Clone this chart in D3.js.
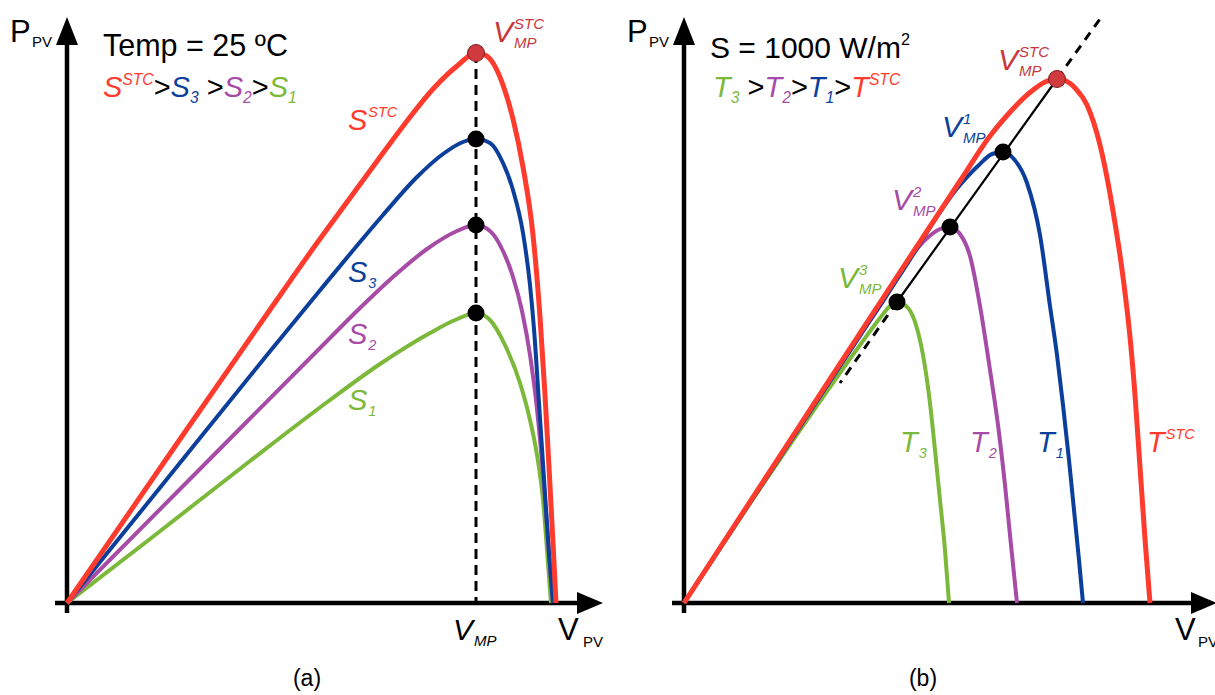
<!DOCTYPE html>
<html>
<head>
<meta charset="utf-8">
<script src="https://cdn.jsdelivr.net/npm/d3@7"></script>
<style>
  body { margin: 0; background: #fff; }
  svg { display: block; font-family: "Liberation Sans", Arial, sans-serif; }
</style>
</head>
<body>
<div id="chart"></div>
<script>
'use strict';

// panel (a): P-V curves at 25 C for several irradiances, [V, P]
var sStc = [[0,0],[10,72.5],[20,144.5],[25,180],[28.3,202.5],[31.6,225],[34.0,241],[36.6,257],[39.0,268.5],[40.9,275],
            [41.8,274],[42.6,270],[43.6,259],[44.6,242],[45.6,218],[46.6,184],[47.3,143],[47.8,104],[48.2,68],[48.6,30],[48.9,0]];
var s3 = [[0,0],[10,62],[20,124],[25,154.5],[28.3,174.5],[31.6,194],[35.0,213],[37.6,224.5],[39.6,230.5],[40.9,232],
          [42.3,230],[43.6,220],[44.6,206.5],[45.6,185],[46.3,159],[46.7,137],[47.2,100],[47.7,62],[48.2,25],[48.6,0]];
var s2 = [[0,0],[13.0,65.5],[26.0,131],[29.3,147.5],[32.6,163],[36.0,177],[39.0,186],[40.9,189],
          [42.3,186],[43.6,176],[44.6,163],[45.5,146],[46.3,124],[47.0,97],[47.8,52],[48.3,18],[48.6,0]];
var s1 = [[0,0],[8.3,32],[18.3,71],[26.3,101.5],[31.3,119.5],[36.3,135],[38.8,141.5],[40.9,145],
          [42.3,141.5],[43.8,129],[45.3,110],[46.3,91.5],[47.0,74],[47.6,51.5],[48.0,26.5],[48.3,6.5],[48.4,0]];
var vmpA = 40.9;
var peaksA = [275, 232, 189, 145];

// panel (b): P-V curves at 1000 W/m2 for several temperatures
var tStc = [[0,0],[11.6,89],[21.6,165.5],[27.6,211],[30.6,233.5],[31.9,241.5],[34.9,256.5],[36.1,260.5],[37.3,262],
            [38.2,261],[39.2,257],[40.3,249],[41.6,229],[42.9,196],[43.9,163],[44.6,133],[45.1,104],[45.6,68],[46.1,32],[46.6,0]];
var t1 = [[0,0],[21.6,164],[27.6,209],[29.6,219.5],[30.8,224.5],[31.9,225.5],[32.9,222.5],[34.3,210],[35.6,184],
          [36.6,148.5],[37.3,124],[37.9,99],[38.5,71.5],[39.0,46.5],[39.5,21.5],[39.9,0]];
var t2 = [[0,0],[19.6,148.5],[24.1,181.5],[25.6,187],[26.6,188],[27.6,184.5],[28.6,173.5],[29.6,148.5],
          [30.6,116.5],[31.4,89],[32.1,59],[32.7,29],[33.3,0]];
var t3 = [[0,0],[11.6,86.5],[17.6,129],[19.6,142.5],[20.6,148.5],[21.3,150.5],[22.4,147.5],[23.2,139],[23.9,124],
          [24.5,104],[25.1,76.5],[25.6,51.5],[26.1,26.5],[26.5,0]];
var mppB = [[21.3,150.5],[26.6,188],[31.9,225.5],[37.3,262]];
var mppLow = [[21.3,150.5],[15.6,110]];
var mppHigh = [[37.3,262],[41.6,292]];

var RED = '#ff3b2e', BLUE = '#0b3f9b', PURPLE = '#a64ca6', GREEN = '#7cb83a', DARKRED = '#c9373c';

var width = 1215, height = 695;
var svg = d3.select('#chart').append('svg')
    .attr('width', width)
    .attr('height', height);

var y = d3.scaleLinear().domain([0, 292.5]).range([603, 18]);
var xa = d3.scaleLinear().domain([0, 54]).range([67, 607]);
var xb = d3.scaleLinear().domain([0, 54]).range([684, 1224]);

function axes(x, tipV) {
    var g = svg.append('g');
    var ox = x(0), oy = y(0);
    g.append('line')
        .attr('x1', ox).attr('y1', y(-5)).attr('x2', ox).attr('y2', y(280))
        .attr('stroke', '#000').attr('stroke-width', 4.5);
    g.append('path')
        .attr('d', 'M' + (ox - 11) + ',' + y(279) + 'L' + ox + ',' + y(293) + 'L' + (ox + 11) + ',' + y(279) + 'Z')
        .attr('fill', '#000');
    var tip = x(tipV), base = x(tipV - 2.6);
    g.append('line')
        .attr('x1', x(-1.2)).attr('y1', oy).attr('x2', base + 1).attr('y2', oy)
        .attr('stroke', '#000').attr('stroke-width', 4.5);
    g.append('path')
        .attr('d', 'M' + base + ',' + (oy - 11) + 'L' + tip + ',' + oy + 'L' + base + ',' + (oy + 11) + 'Z')
        .attr('fill', '#000');
}

function curve(x, data, color, w) {
    var line = d3.line()
        .x(function(d) { return x(d[0]); })
        .y(function(d) { return y(d[1]); })
        .curve(d3.curveMonotoneX);
    svg.append('path')
        .attr('d', line(data))
        .attr('fill', 'none')
        .attr('stroke', color)
        .attr('stroke-width', w || 4)
        .attr('stroke-linejoin', 'round');
}

function seg(x, data, w, dash) {
    svg.append('line')
        .attr('x1', x(data[0][0])).attr('y1', y(data[0][1]))
        .attr('x2', x(data[1][0])).attr('y2', y(data[1][1]))
        .attr('stroke', '#000').attr('stroke-width', w)
        .attr('stroke-dasharray', dash || null);
}

function dot(x, v, p, fill, stroke) {
    svg.append('circle')
        .attr('cx', x(v)).attr('cy', y(p)).attr('r', 8.5)
        .attr('fill', fill)
        .attr('stroke', stroke || 'none').attr('stroke-width', 1);
}

// text with inline sub/superscripts
function rich(x0, y0, parts, size, color) {
    var t = svg.append('text').attr('x', x0).attr('y', y0)
        .attr('font-size', size).attr('fill', color || '#000');
    var cur = 0;
    parts.forEach(function(p) {
        var off = p.s === 'sub' ? size * 0.22 : p.s === 'sup' ? -size * 0.43 : 0;
        t.append('tspan')
            .attr('dy', off - cur)
            .attr('font-size', p.s ? size * 0.54 : size)
            .attr('font-style', p.i ? 'italic' : null)
            .attr('fill', p.c || null)
            .text(p.t);
        cur = off;
    });
    return t;
}

// base letter with stacked sup and sub
function stack(x0, y0, base, sup, sub, color, size, italic) {
    var t = svg.append('text').attr('x', x0).attr('y', y0)
        .attr('font-size', size).attr('fill', color)
        .attr('font-style', italic ? 'italic' : null).text(base);
    var w = t.node().getComputedTextLength();
    if (sup) svg.append('text').attr('x', x0 + w + 1).attr('y', y0 - size * 0.45)
        .attr('font-size', size * 0.5).attr('fill', color).attr('font-style', 'italic').text(sup);
    if (sub) svg.append('text').attr('x', x0 + w + 1).attr('y', y0 + size * 0.2)
        .attr('font-size', size * 0.5).attr('fill', color)
        .attr('font-style', italic ? 'italic' : null).text(sub);
}

// ---------- panel (a)
axes(xa, 53.6);
curve(xa, s1, GREEN);
curve(xa, s2, PURPLE);
curve(xa, s3, BLUE);
curve(xa, sStc, RED, 5);
seg(xa, [[vmpA, peaksA[0]], [vmpA, 0]], 3, '10,6');
peaksA.forEach(function(p, i) {
    if (i === 0) dot(xa, vmpA, p, '#d0393e', '#7a2024');
    else dot(xa, vmpA, p, '#000');
});

stack(10, 42, 'P', null, null, '#000', 31, false);
svg.append('text').attr('x', 32).attr('y', 47).attr('font-size', 15).text('PV');
svg.append('text').attr('x', 103).attr('y', 55.5).attr('font-size', 30.5).text('Temp = 25 \u00baC');
rich(103, 97, [
    {t: 'S', i: 1, c: RED}, {t: 'STC', s: 'sup', i: 1, c: RED}, {t: '>'},
    {t: 'S', i: 1, c: BLUE}, {t: '3', s: 'sub', i: 1, c: BLUE}, {t: ' >'},
    {t: 'S', i: 1, c: PURPLE}, {t: '2', s: 'sub', i: 1, c: PURPLE}, {t: '>'},
    {t: 'S', i: 1, c: GREEN}, {t: '1', s: 'sub', i: 1, c: GREEN}
], 29);

stack(348, 130, 'S', 'STC', null, RED, 29, true);
stack(348, 282, 'S', null, '3', BLUE, 29, true);
stack(348, 344, 'S', null, '2', PURPLE, 29, true);
stack(348, 410, 'S', null, '1', GREEN, 29, true);
stack(493, 42, 'V', 'STC', 'MP', DARKRED, 30, true);
stack(453, 640, 'V', null, 'MP', '#000', 30, true);
stack(558, 640, 'V', null, null, '#000', 31, false);
svg.append('text').attr('x', 583).attr('y', 647).attr('font-size', 15).text('PV');
svg.append('text').attr('x', 307).attr('y', 686).attr('font-size', 23)
    .attr('text-anchor', 'middle').text('(a)');

// ---------- panel (b)
axes(xb, 53.3);
curve(xb, t3, GREEN);
curve(xb, t2, PURPLE);
curve(xb, t1, BLUE);
curve(xb, tStc, RED, 5);
seg(xb, [mppB[0], mppB[3]], 2.2);
seg(xb, mppLow, 3, '9,7');
seg(xb, mppHigh, 3, '9,7');
mppB.forEach(function(d, i) {
    if (i === 3) dot(xb, d[0], d[1], '#d0393e', '#7a2024');
    else dot(xb, d[0], d[1], '#000');
});

stack(627, 42, 'P', null, null, '#000', 31, false);
svg.append('text').attr('x', 649).attr('y', 47).attr('font-size', 15).text('PV');
rich(710, 58, [{t: 'S = 1000 W/m'}, {t: '2', s: 'sup'}], 30);
rich(713, 97, [
    {t: 'T', i: 1, c: GREEN}, {t: '3', s: 'sub', i: 1, c: GREEN}, {t: ' >'},
    {t: 'T', i: 1, c: PURPLE}, {t: '2', s: 'sub', i: 1, c: PURPLE}, {t: '>'},
    {t: 'T', i: 1, c: BLUE}, {t: '1', s: 'sub', i: 1, c: BLUE}, {t: '>'},
    {t: 'T', i: 1, c: RED}, {t: 'STC', s: 'sup', i: 1, c: RED}
], 29);

stack(998, 70, 'V', 'STC', 'MP', DARKRED, 30, true);
stack(942, 137, 'V', '1', 'MP', BLUE, 30, true);
stack(892, 210, 'V', '2', 'MP', PURPLE, 30, true);
stack(838, 288, 'V', '3', 'MP', GREEN, 30, true);
stack(900, 452, 'T', null, '3', GREEN, 29, true);
stack(970, 452, 'T', null, '2', PURPLE, 29, true);
stack(1037, 452, 'T', null, '1', BLUE, 29, true);
stack(1147, 452, 'T', 'STC', null, RED, 29, true);
stack(1175, 640, 'V', null, null, '#000', 31, false);
svg.append('text').attr('x', 1198).attr('y', 647).attr('font-size', 15).text('PV');
svg.append('text').attr('x', 923).attr('y', 686).attr('font-size', 23)
    .attr('text-anchor', 'middle').text('(b)');
</script>
</body>
</html>
